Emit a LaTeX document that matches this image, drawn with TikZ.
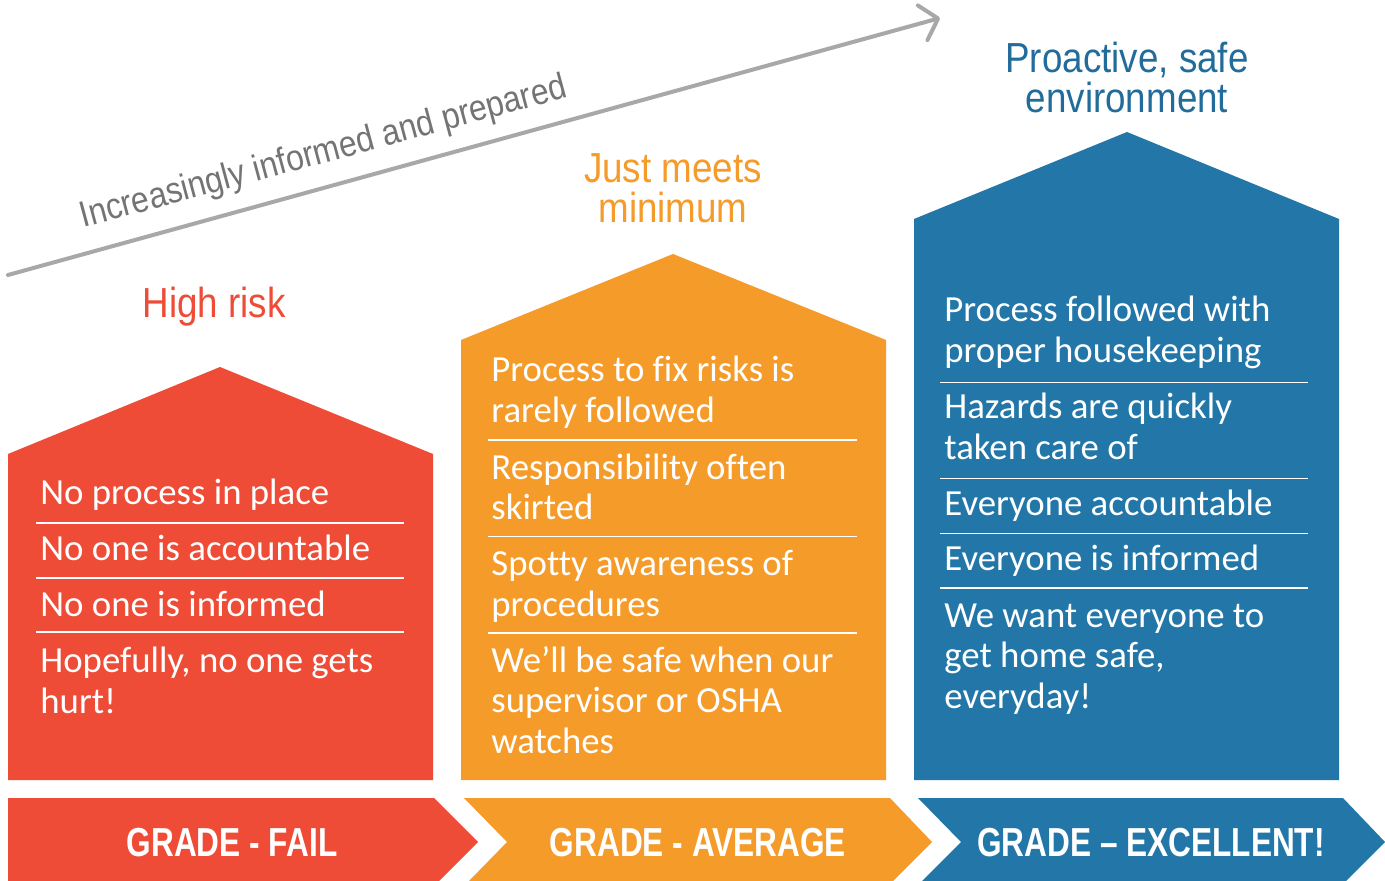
\documentclass[tikz,border=0pt]{standalone}
\usepackage{fontspec}
\setmainfont{Carlito}[Ligatures=NoCommon]
\newfontfamily\headfont[FakeStretch=0.875]{Liberation Sans}
\newfontfamily\gradefont[FakeStretch=0.78]{Liberation Sans}
\usetikzlibrary{arrows.meta}
\definecolor{cred}{HTML}{EE4C36}
\definecolor{corange}{HTML}{F59B2A}
\definecolor{cblue}{HTML}{2377A8}
\definecolor{cbluetext}{HTML}{226C9C}
\definecolor{cgrayline}{HTML}{A8A8A8}
\definecolor{cgraytext}{HTML}{747474}
\begin{document}
\begin{tikzpicture}[x=0.5pt,y=-0.5pt,
  item/.style={anchor=base west, inner sep=0pt, align=left, text=white,
    font=\fontsize{18.4}{20.25}\selectfont},
  heading/.style={anchor=base, inner sep=0pt, align=center,
    font=\headfont\fontsize{21}{20}\selectfont},
  grade/.style={anchor=base, inner sep=0pt, text=white,
    font=\gradefont\bfseries\fontsize{20.25}{22}\selectfont},
  sep/.style={draw=white, line width=0.7pt}]
\useasboundingbox (0,0) rectangle (1385,881);
\fill[white] (0,0) rectangle (1385,881);

% trend arrow
\coordinate (arrS) at (8,275);
\coordinate (arrE) at (940,18);
\draw[cgrayline, line width=2pt, line cap=round,
  -{Straight Barb[length=8pt,width=18pt,round]}] (arrS) -- (arrE);
\node[anchor=base, inner sep=0pt, rotate=15.1, text=cgraytext,
  font=\headfont\fontsize{18.25}{20}\selectfont] (trend) at (326,162.5)
  {Increasingly informed and prepared};

% houses
\fill[cred] (8,780) -- (8,454) -- (220,367) -- (433,454) -- (433,780) -- cycle;
\fill[corange] (461,780) -- (461,340) -- (673,254) -- (886,340) -- (886,780) -- cycle;
\fill[cblue] (914,780) -- (914,219) -- (1127,132) -- (1339,219) -- (1339,780) -- cycle;

% headings (anchor = baseline of last line)
\node[heading, text=cred] (hred) at (214,318) {High risk};
\node[heading, text=corange] (horange) at (673,223) {Just meets\\minimum};
\node[heading, text=cbluetext] (hblue) at (1127,113) {Proactive, safe\\environment};

% red items
\node[item] (r1) at (40,504) {No process in place};
\node[item] (r2) at (40,560.7) {No one is accountable};
\node[item] (r3) at (40,616.7) {No one is informed};
\node[item] (r4) at (40,713) {Hopefully, no one gets\\hurt!};
\draw[sep] (36,523) -- (404,523);
\draw[sep] (36,578) -- (404,578);
\draw[sep] (36,632) -- (404,632);

% orange items
\node[item] (o1) at (491,422.5) {Process to fix risks is\\rarely followed};
\node[item] (o2) at (491,519.5) {Responsibility often\\skirted};
\node[item] (o3) at (491,616) {Spotty awareness of\\procedures};
\node[item] (o4) at (491,753) {We’ll be safe when our\\supervisor or OSHA\\watches};
\draw[sep] (488,440) -- (857,440);
\draw[sep] (488,536.5) -- (857,536.5);
\draw[sep] (488,633) -- (857,633);

% blue items
\node[item] (b1) at (944,362.5) {Process followed with\\proper housekeeping};
\node[item] (b2) at (944,459) {Hazards are quickly\\taken care of};
\node[item] (b3) at (944,515) {Everyone accountable};
\node[item] (b4) at (944,570.7) {Everyone is informed};
\node[item] (b5) at (944,708) {We want everyone to\\get home safe,\\everyday!};
\draw[sep] (940,382.4) -- (1308,382.4);
\draw[sep] (940,478.6) -- (1308,478.6);
\draw[sep] (940,533.7) -- (1308,533.7);
\draw[sep] (940,588) -- (1308,588);

% grade chevrons
\fill[cred] (8,798) -- (434,798) -- (478,842) -- (439,881) -- (8,881) -- cycle;
\fill[corange] (464,798) -- (890,798) -- (932,842) -- (893,881) -- (469,881) -- (507,842) -- cycle;
\fill[cblue] (918,798) -- (1343,798) -- (1385,842) -- (1346,881) -- (922,881) -- (961,842) -- cycle;
\node[grade] (gred) at (232,856) {GRADE - FAIL};
\node[grade] (gorange) at (698,856) {GRADE - AVERAGE};
\node[grade] (gblue) at (1151,856) {GRADE – EXCELLENT!};
\end{tikzpicture}
\end{document}
